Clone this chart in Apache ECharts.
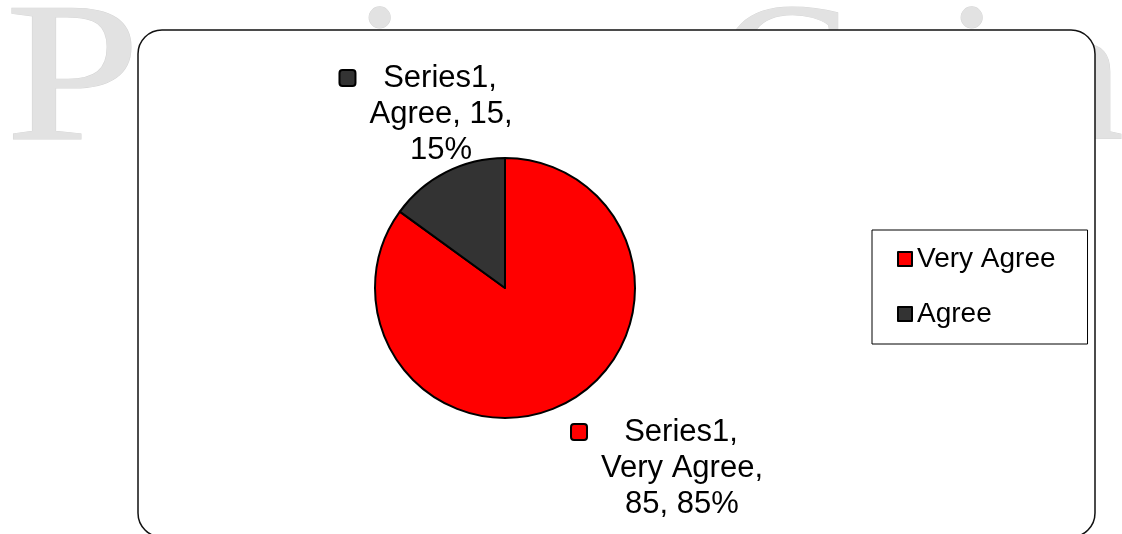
<!DOCTYPE html>
<html>
<head>
<meta charset="utf-8">
<script src="https://cdn.jsdelivr.net/npm/echarts@6/dist/echarts.min.js"></script>
<style>
  html, body { margin: 0; padding: 0; background: #fff; }
  #chart { width: 1122px; height: 534px; }
</style>
</head>
<body>
<div id="chart"></div>
<script>
const seriesName = "Series1";
const categories = ["Very Agree", "Agree"];
const values = [85, 15];
const colors = ["#ff0000", "#333333"];

const FONT = "Liberation Sans, Arial, sans-serif";
const LABEL_SIZE = 31;

const measure = document.createElement("canvas").getContext("2d");
function textW(s) {
  measure.font = LABEL_SIZE + "px " + FONT;
  return measure.measureText(s).width;
}

const total = values.reduce((a, b) => a + b, 0);
function labelLines(i) {
  const name = categories[i];
  const pct = Math.round((values[i] / total) * 100);
  const first = seriesName + ",";
  if (name.length > 6) return [first, name + ",", values[i] + ", " + pct + "%"];
  return [first, name + ", " + values[i] + ",", pct + "%"];
}

const rich = {
  t: { fontSize: LABEL_SIZE, fontFamily: FONT, color: "#000", lineHeight: 36 },
};
colors.forEach((c, i) => {
  rich["m" + i] = {
    width: 14, height: 14, backgroundColor: c, borderColor: "#000",
    borderWidth: 2, borderRadius: 2, verticalAlign: "middle",
  };
  // marker sits left of the widest line, first line stays centred
  const lines = labelLines(i);
  const widest = Math.max(...lines.map(textW));
  const L = widest / 2 + 30 - textW(lines[0]) / 2;
  rich["g" + i] = { width: Math.max(L - 16, 0) };
  rich["r" + i] = { width: L };
});

const chart = echarts.init(document.getElementById("chart"));
// faint watermark letters peeking out behind the frame
const wm = (text, x, align, sx) => ({
  type: "text", z: -10, x: x, y: 186, silent: true, scaleX: sx || 1,
  style: { text: text, font: "200px 'Liberation Serif', 'DejaVu Serif', serif",
    fill: "#e2e2e2", stroke: "#d6d6d6", lineWidth: 1, align: align, verticalAlign: "bottom" },
});

chart.setOption({
  backgroundColor: "#fff",
  animation: false,
  graphic: [
    wm("P", 5, "left", 1.22),
    wm("i", 381, "center"),
    wm("G", 788, "center"),
    wm("i", 973, "center"),
    wm("n", 1124, "right"),
    {
      type: "rect", z: -5, silent: true,
      shape: { x: 138, y: 30, width: 957, height: 507, r: 24 },
      style: { fill: "#fff", stroke: "#111", lineWidth: 1.5 },
    },
  ],
  legend: {
    orient: "vertical",
    left: 872,
    top: 230,
    padding: [15, 32, 16, 25],
    borderColor: "#000",
    borderWidth: 1,
    itemWidth: 14,
    itemHeight: 14,
    itemGap: 27,
    icon: "rect",
    itemStyle: { borderColor: "#000", borderWidth: 2 },
    textStyle: { fontSize: 28, fontFamily: FONT, color: "#000" },
    data: categories,
  },
  series: [
    {
      name: seriesName,
      type: "pie",
      center: [505, 288],
      radius: 130,
      startAngle: 90,
      clockwise: true,
      itemStyle: { borderColor: "#000", borderWidth: 2 },
      emphasis: { disabled: true },
      labelLine: { show: false },
      label: {
        show: true,
        align: "center",
        rich: rich,
        formatter: (p) => {
          const i = p.dataIndex;
          const lines = labelLines(i);
          return `{m${i}|}{g${i}|}{t|${lines[0]}}{r${i}|}\n{t|${lines[1]}}\n{t|${lines[2]}}`;
        },
      },
      labelLayout: (p) =>
        p.dataIndex === 0
          ? { x: 682, y: 468, align: "center", verticalAlign: "middle" }
          : { x: 441, y: 114, align: "center", verticalAlign: "middle" },
      data: categories.map((c, i) => ({ name: c, value: values[i], itemStyle: { color: colors[i] } })),
    },
  ],
});
</script>
</body>
</html>
